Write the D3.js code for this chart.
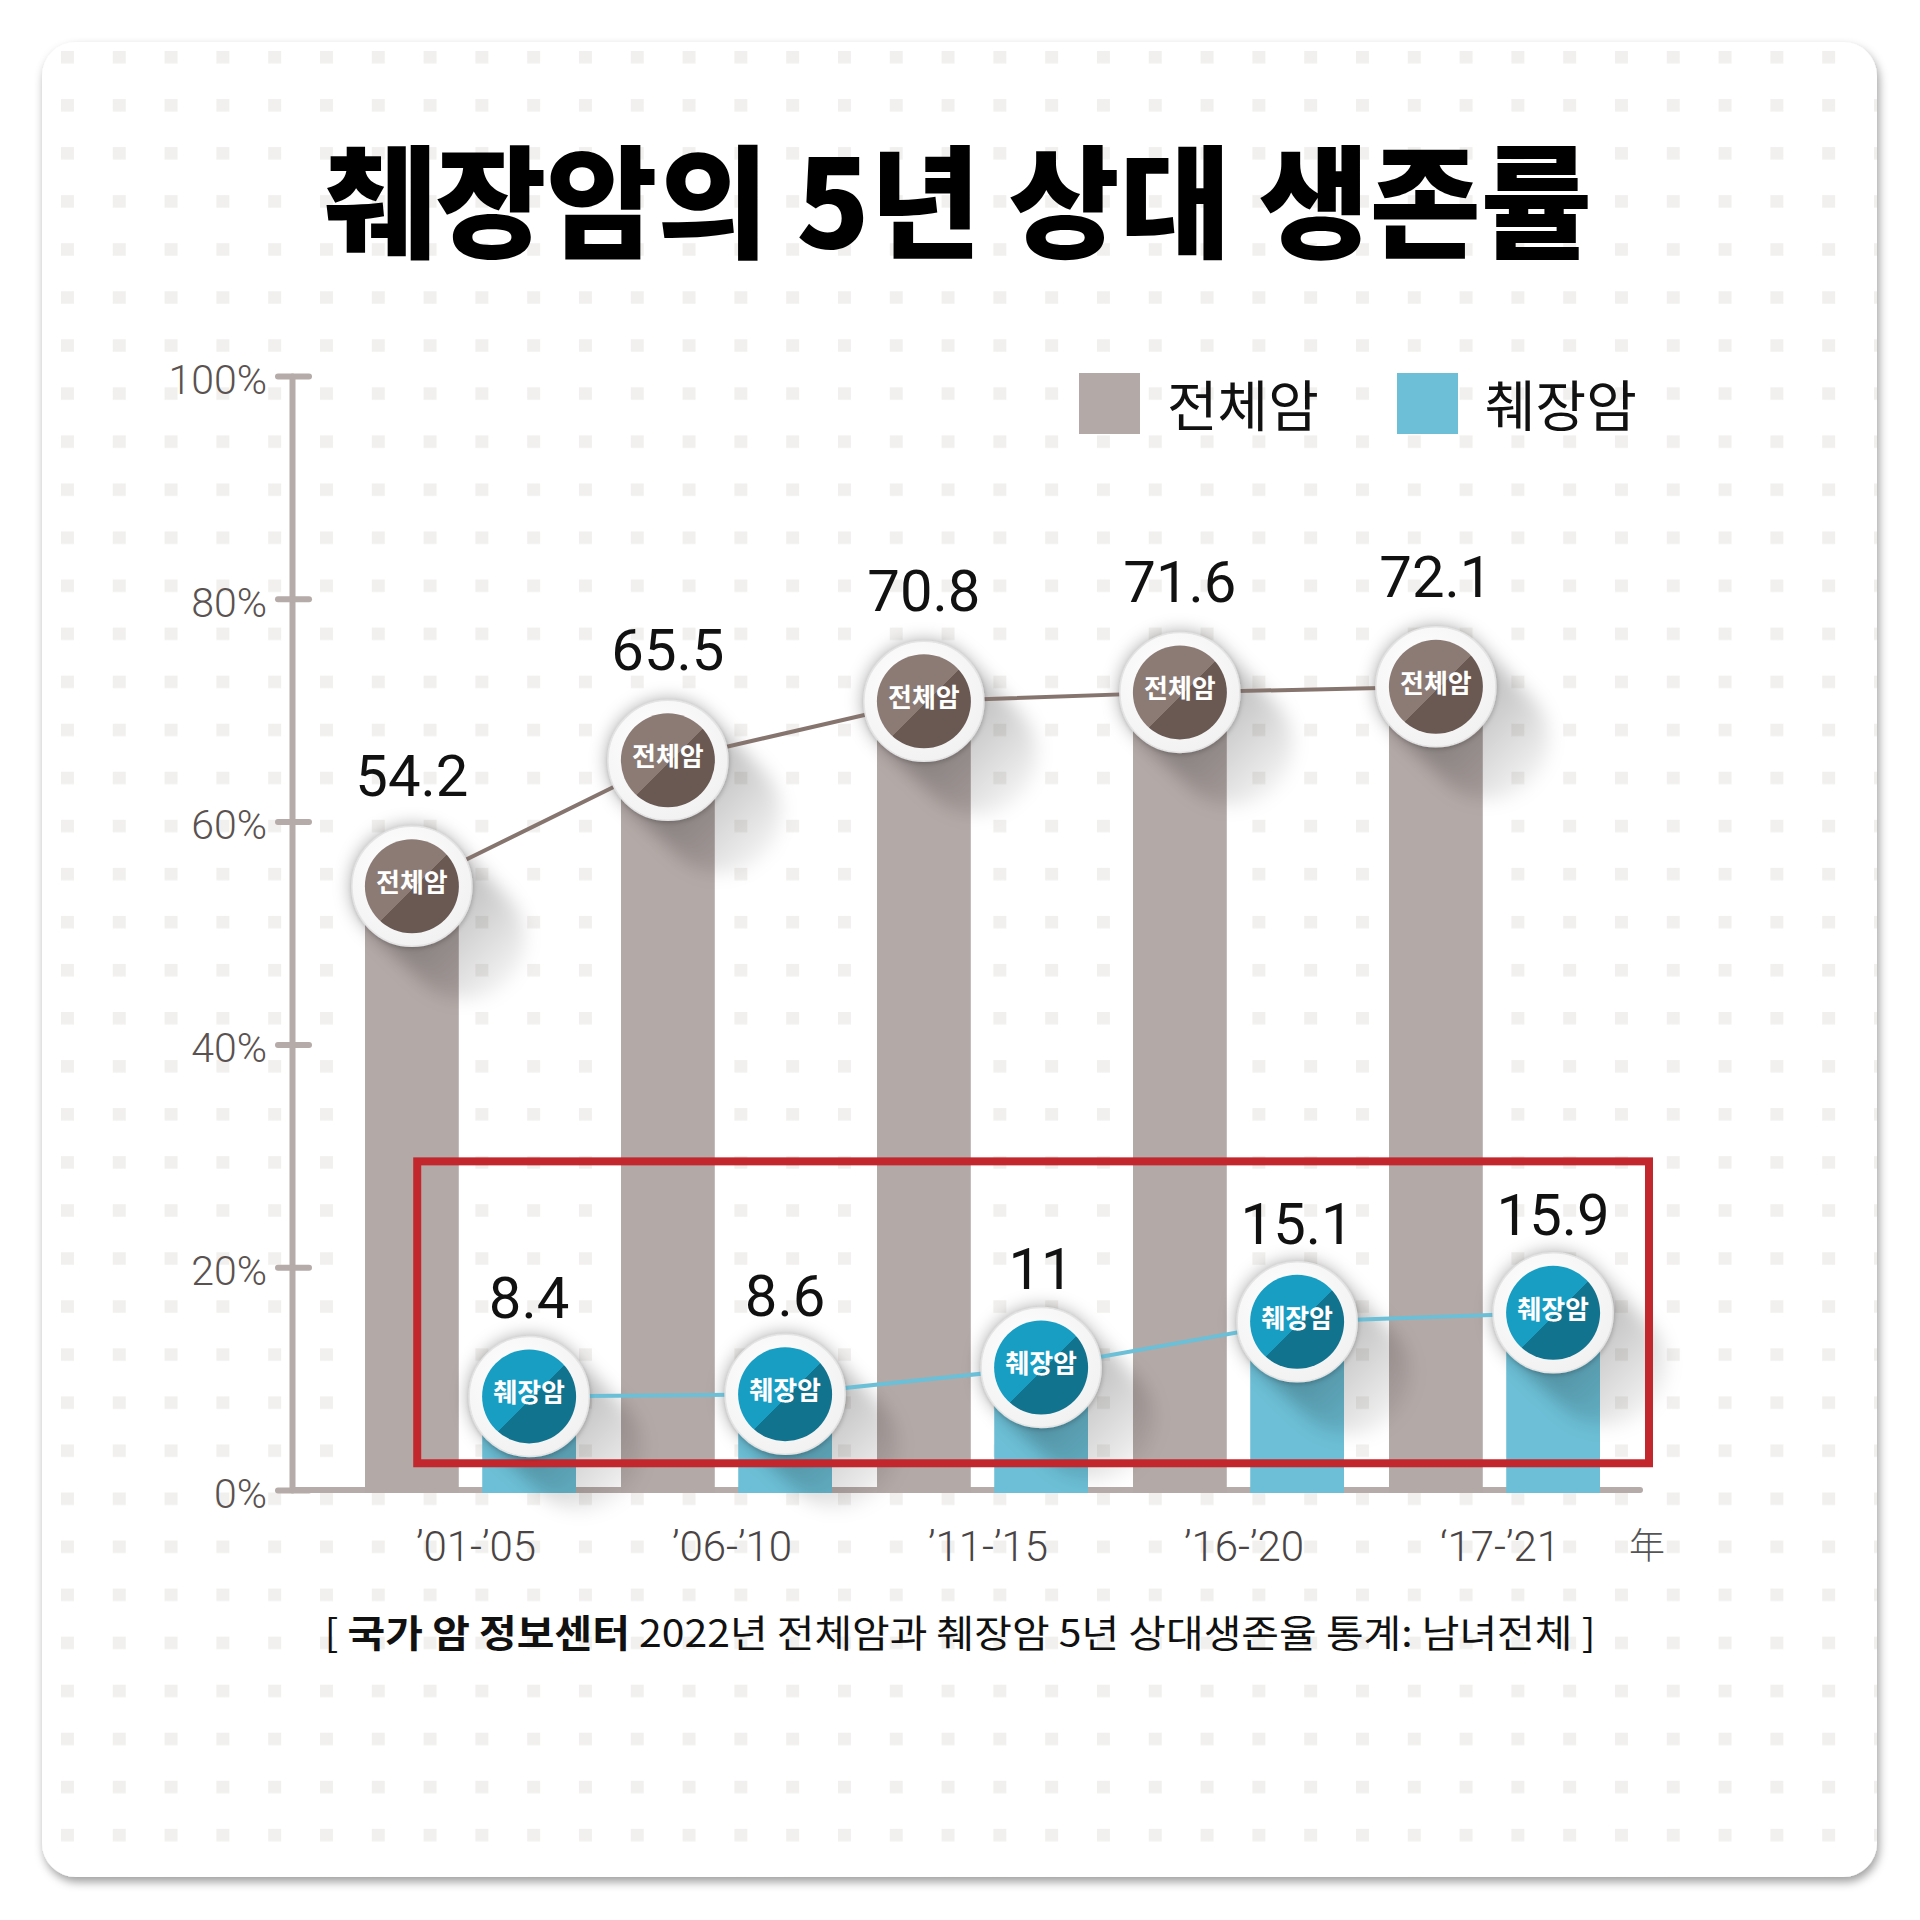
<!DOCTYPE html>
<html><head><meta charset="utf-8">
<script src="https://cdn.jsdelivr.net/npm/d3@7"></script>
<style>body{margin:0;background:#fff}</style>
</head><body>
<script>
// ---- data ----
const periods = ["’01-’05","’06-’10","’11-’15","’16-’20","‘17-’21"];
const allCancer = [54.2, 65.5, 70.8, 71.6, 72.1];
const pancreatic = [8.4, 8.6, 11, 15.1, 15.9];
const seriesNames = ["전체암", "췌장암"];
const yTicks = [0, 20, 40, 60, 80, 100];
const titleText = "췌장암의 5년 상대 생존률";
const sourceBold = "국가 암 정보센터";
const sourceRest = " 2022년 전체암과 췌장암 5년 상대생존율 통계: 남녀전체 ]";
const unitLabel = "年";

const W = 1920, H = 1920;
const KR = "'Noto Sans CJK KR','Noto Sans',sans-serif";
const RB = "Roboto,'Noto Sans',sans-serif";
const colors = {all:"#b3a9a7", pan:"#6cbfd6", allLine:"#86756f", panLine:"#6bbfd6",
  allLight:"#8c7b75", allDark:"#6a5953", panLight:"#189dc3", panDark:"#12738f"};

const svg = d3.select("body").append("svg").attr("width", W).attr("height", H);
const defs = svg.append("defs");

// card shadow
const fs = defs.append("filter").attr("id","cardShadow").attr("x","-5%").attr("y","-5%").attr("width","110%").attr("height","110%");
fs.append("feDropShadow").attr("dx",2).attr("dy",5).attr("stdDeviation",5).attr("flood-color","#000").attr("flood-opacity",0.38);
// dot pattern
const pat = defs.append("pattern").attr("id","dots").attr("patternUnits","userSpaceOnUse")
  .attr("x",61).attr("y",51).attr("width",51.8).attr("height",48.05);
pat.append("rect").attr("width",13).attr("height",12.5).attr("fill","#f1f0ee");
// blur for long shadows
defs.append("filter").attr("id","blur").attr("x","-50%").attr("y","-50%").attr("width","200%").attr("height","200%")
  .append("feGaussianBlur").attr("stdDeviation",9);
const rs = defs.append("filter").attr("id","ringShadow").attr("x","-30%").attr("y","-30%").attr("width","160%").attr("height","160%");
rs.append("feDropShadow").attr("dx",1).attr("dy",2).attr("stdDeviation",2).attr("flood-color","#000").attr("flood-opacity",0.18);
// long shadow gradient
const sg = defs.append("linearGradient").attr("id","shadowGrad").attr("x1",0.25).attr("y1",0.25).attr("x2",1).attr("y2",1);
sg.append("stop").attr("offset",0).attr("stop-color","#000").attr("stop-opacity",0.36);
sg.append("stop").attr("offset",1).attr("stop-color","#000").attr("stop-opacity",0);
// two-tone circle gradients
function twoTone(id, light, dark){
  const g = defs.append("linearGradient").attr("id",id).attr("x1",0).attr("y1",0).attr("x2",1).attr("y2",1);
  g.append("stop").attr("offset",0).attr("stop-color",light);
  g.append("stop").attr("offset",0.52).attr("stop-color",light);
  g.append("stop").attr("offset",0.52).attr("stop-color",dark);
  g.append("stop").attr("offset",1).attr("stop-color",dark);
}
twoTone("gAll", colors.allLight, colors.allDark);
twoTone("gPan", colors.panLight, colors.panDark);
const ringG = defs.append("radialGradient").attr("id","ringGrad").attr("cx",0.4).attr("cy",0.35).attr("r",0.7);
ringG.append("stop").attr("offset",0).attr("stop-color","#ffffff");
ringG.append("stop").attr("offset",1).attr("stop-color","#f1f1f1");

// card
svg.append("rect").attr("x",42).attr("y",42).attr("width",1835).attr("height",1835).attr("rx",34)
  .attr("fill","#fff").attr("filter","url(#cardShadow)");
svg.append("rect").attr("x",42).attr("y",42).attr("width",1835).attr("height",1835).attr("rx",34)
  .attr("fill","url(#dots)");

// title
svg.append("text").attr("x",958).attr("y",248).attr("text-anchor","middle")
  .attr("font-family",KR).attr("font-weight",900).attr("font-size",122).attr("fill","#000")
  .attr("textLength",1268).attr("lengthAdjust","spacingAndGlyphs").text(titleText);

// scales
const y = d3.scaleLinear().domain([0,100]).range([1490,376]);
const x = d3.scaleBand().domain(periods).range([348,1628]);
const xs = d3.scaleBand().domain(seriesNames).range([17,228]).paddingInner(0.2);
const bw = xs.bandwidth();

// y axis
const gy = svg.append("g").attr("transform","translate(292,0)")
  .call(d3.axisLeft(y).tickValues(yTicks).tickFormat(d=>d+"%").tickSize(14).tickSizeOuter(0).tickPadding(11));
gy.select(".domain").attr("stroke","#b5aba8").attr("stroke-width",6).attr("stroke-linecap","round");
gy.selectAll(".tick line").attr("x1",-14).attr("x2",17).attr("stroke","#b5aba8").attr("stroke-width",6).attr("stroke-linecap","round");
gy.selectAll(".tick text").attr("font-family",RB).attr("font-weight",300).attr("font-size",41).attr("fill","#5a5250").attr("dy","0.42em");

// x axis line
svg.append("line").attr("x1",292).attr("x2",x.range()[1]+12).attr("y1",y(0)).attr("y2",y(0))
  .attr("stroke","#b5aba8").attr("stroke-width",6).attr("stroke-linecap","round");
const gx = svg.append("g").attr("transform",`translate(0,${y(0)})`)
  .call(d3.axisBottom(x).tickSize(0).tickPadding(41));
gx.select(".domain").remove();
gx.selectAll(".tick text").attr("font-family",RB).attr("font-weight",300).attr("font-size",42).attr("fill","#4a4444");
svg.append("text").attr("x",1647).attr("y",1559).attr("text-anchor","middle")
  .attr("font-family","'Noto Sans CJK JP',sans-serif").attr("font-weight",300).attr("font-size",36)
  .attr("fill","#555").text(unitLabel);

// bars
const series = [
  {name:seriesNames[0], values:allCancer, fill:colors.all, line:colors.allLine, grad:"url(#gAll)", off:90},
  {name:seriesNames[1], values:pancreatic, fill:colors.pan, line:colors.panLine, grad:"url(#gPan)", off:78}
];
series.forEach(s=>{
  svg.append("g").selectAll("rect").data(periods).join("rect")
    .attr("x",d=>x(d)+xs(s.name)).attr("width",bw)
    .attr("y",(d,i)=>y(s.values[i])).attr("height",(d,i)=>y(0)-y(s.values[i])+3)
    .attr("fill",s.fill);
});

// point helper
const cxOf = (s,i)=> x(periods[i]) + xs(s.name) + bw/2;
const R = 60, r = 47, L = 75;
function capsule(){
  const n = [Math.SQRT1_2, -Math.SQRT1_2], d = [Math.SQRT1_2, Math.SQRT1_2];
  const p1=[R*n[0],R*n[1]], p2=[R*n[0]+L*d[0], R*n[1]+L*d[1]], p3=[-R*n[0]+L*d[0], -R*n[1]+L*d[1]], p4=[-R*n[0],-R*n[1]];
  return `M${p1}L${p2}A${R},${R} 0 0 1 ${p3}L${p4}A${R},${R} 0 0 1 ${p1}Z`;
}
// long shadows
series.forEach(s=>{
  svg.append("g").selectAll("path").data(s.values).join("path")
    .attr("transform",(v,i)=>`translate(${cxOf(s,i)},${y(v)})`)
    .attr("d",capsule()).attr("fill","url(#shadowGrad)").attr("filter","url(#blur)");
});

// red highlight box
const bx0 = x(periods[0]) + xs(seriesNames[1]) - 65;
const bx1 = x(periods[periods.length-1]) + xs(seriesNames[1]) + bw + 49;
svg.append("rect").attr("x",bx0).attr("y",y(29.5)).attr("width",bx1-bx0).attr("height",y(2.4)-y(29.5))
  .attr("fill","none").attr("stroke","#c3272e").attr("stroke-width",8);

// lines
series.forEach(s=>{
  svg.append("path").datum(s.values)
    .attr("d",d3.line().x((v,i)=>cxOf(s,i)).y(v=>y(v)))
    .attr("fill","none").attr("stroke",s.line).attr("stroke-width",4);
});

// circles and labels
series.forEach(s=>{
  const g = svg.append("g").selectAll("g").data(s.values).join("g")
    .attr("transform",(v,i)=>`translate(${cxOf(s,i)},${y(v)})`);
  g.append("circle").attr("r",R).attr("fill","url(#ringGrad)").attr("stroke","#e4e4e4").attr("stroke-width",1.5)
    .attr("filter","url(#ringShadow)");
  g.append("circle").attr("r",r).attr("fill",s.grad);
  g.append("text").attr("y",6).attr("text-anchor","middle").attr("font-family",KR).attr("font-weight",700)
    .attr("font-size",26).attr("fill","#fff").text(s.name);
  g.append("text").attr("y",-s.off).attr("text-anchor","middle").attr("font-family",RB)
    .attr("font-size",58).attr("fill","#111").text(v=>v);
});

// legend
series.forEach((s,i)=>{
  const lx = 1079 + i*318;
  svg.append("rect").attr("x",lx).attr("y",373).attr("width",61).attr("height",61).attr("fill",s.fill);
  svg.append("text").attr("x",lx+88).attr("y",426).attr("font-family",KR).attr("font-size",55)
    .attr("fill","#111").text(s.name);
});

// source caption
const cap = svg.append("text").attr("x",960).attr("y",1647).attr("text-anchor","middle")
  .attr("font-family",KR).attr("font-size",38).attr("fill","#111")
  .attr("textLength",1271).attr("lengthAdjust","spacingAndGlyphs");
cap.append("tspan").text("[ ");
cap.append("tspan").attr("font-weight",700).text(sourceBold);
cap.append("tspan").text(sourceRest);
</script>
</body></html>
